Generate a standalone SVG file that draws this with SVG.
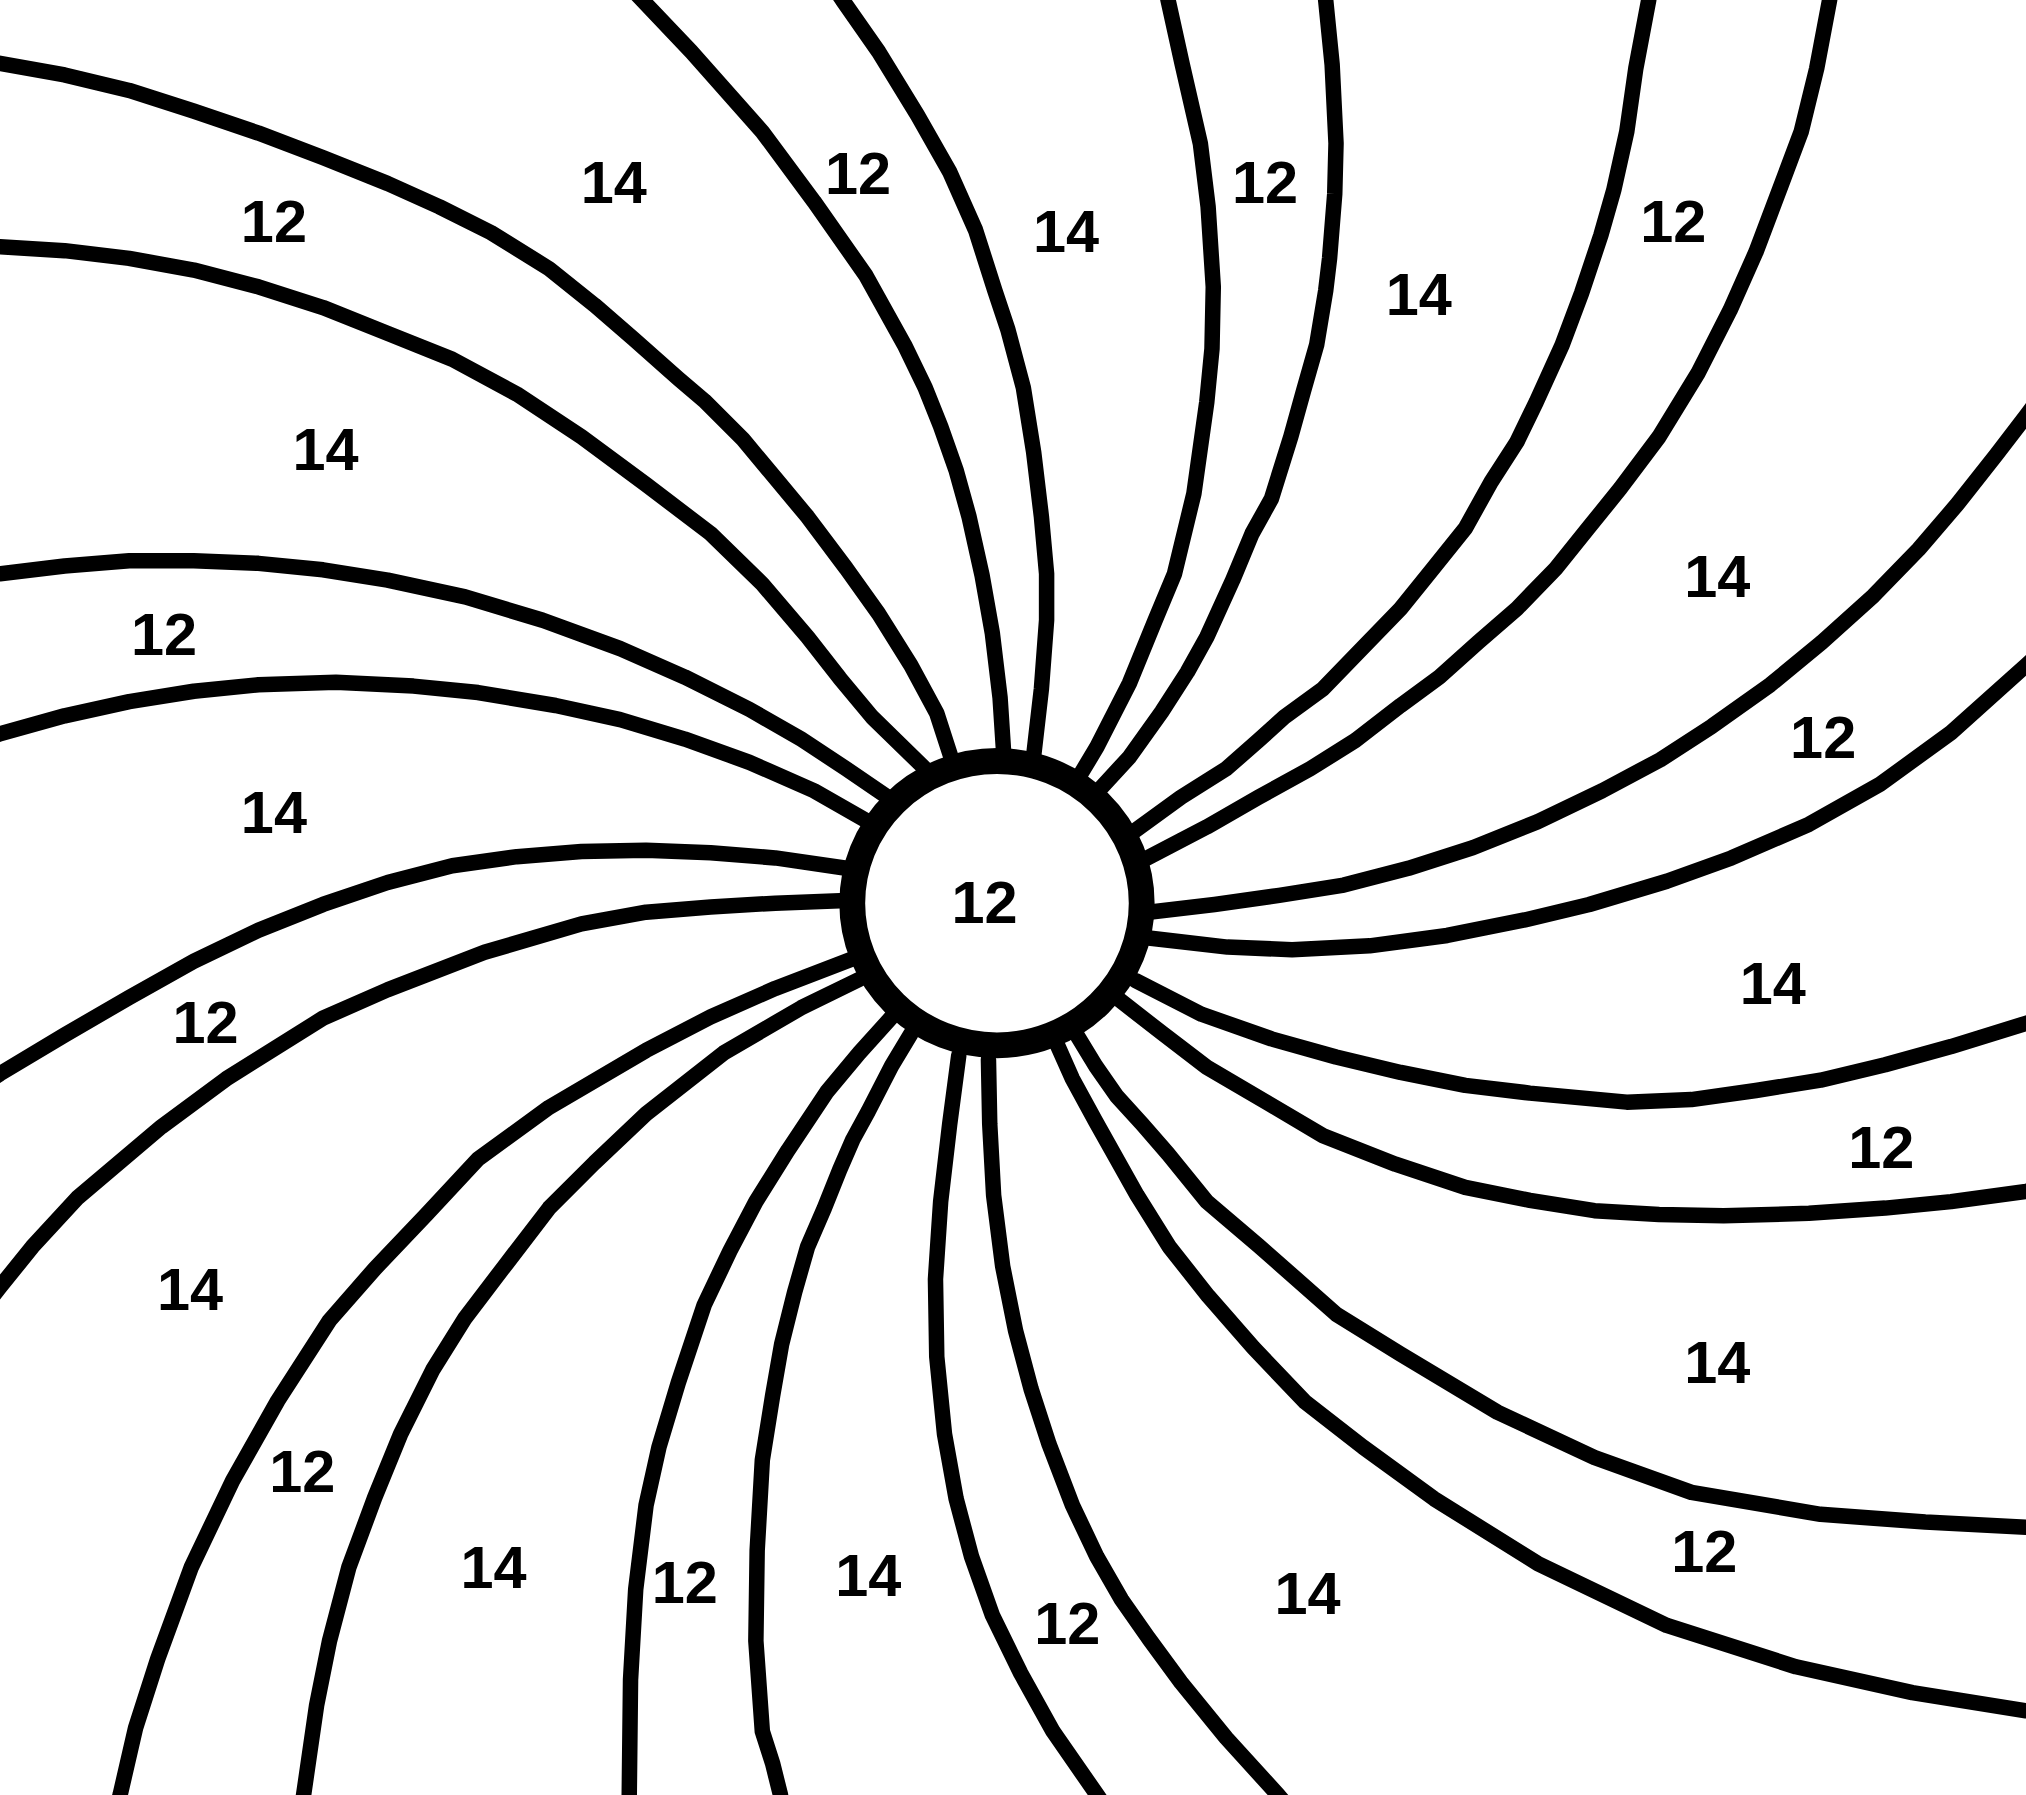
<svg xmlns="http://www.w3.org/2000/svg" width="2026" height="1795" viewBox="0 0 2026 1795">
<style>
.c{fill:none;stroke:#000;stroke-width:12;stroke-linejoin:round;stroke-linecap:round}
.t{font-family:"Liberation Sans",Arial,sans-serif;font-weight:bold;font-size:46px;text-anchor:middle;fill:#000}
.ring{fill:#fff;stroke:#000;stroke-width:20}
</style>
<rect width="2026" height="1795" fill="#fff"/>
<g transform="scale(1.29209)">
<g id="connectors">
<path class="c" d="M715,594 L675,555 L650,525 L625,493 L590,452 L550,413 L500,375 L450,338 L400,305 L350,278 L300,258 L250,238 L200,222 L150,209 L100,200 L50,194 L0,191 L-15,190"/>
<path class="c" d="M737,589 L725,552 L705,515 L680,475 L655,440 L625,400 L600,370 L575,340 L545,310 L525,293 L490,262 L460,236 L425,208 L380,180 L340,160 L300,142 L250,122 L200,103 L150,86 L100,70 L50,58 L0,49 L-15,47"/>
<path class="c" d="M777,586 L774,540 L768,490 L760,445 L750,400 L740,364 L728,330 L716,300 L700,267 L670,213 L630,156 L590,102 L535,40 L497,0 L483,-15"/>
<path class="c" d="M800,585 L806,533 L810,480 L810,444 L806,400 L800,350 L792,300 L780,255 L770,225 L755,178 L735,133 L710,89 L680,40 L652,0 L642,-15"/>
<path class="c" d="M834,603 L849,578 L874,529 L894,480 L909,444 L924,382 L934,311 L938,270 L939,222 L935,160 L929,111 L915,50 L904,0 L901,-15"/>
<path class="c" d="M851,611 L874,586 L899,551 L919,520 L934,493 L954,449 L969,413 L984,386 L999,338 L1009,302 L1019,267 L1026,225 L1029,200 L1033,150 L1034,111 L1031,50 L1026,0 L1025,-15"/>
<path class="c" d="M877,644 L914,617 L949,595 L974,573 L994,555 L1024,533 L1054,502 L1084,471 L1109,440 L1134,409 L1154,373 L1174,342 L1189,311 L1209,267 L1224,227 L1239,182 L1249,147 L1259,102 L1266,53 L1276,0 L1278,-15"/>
<path class="c" d="M884,666 L934,640 L974,617 L1014,595 L1049,573 L1084,546 L1114,524 L1144,497 L1174,471 L1204,440 L1229,409 L1254,378 L1284,338 L1314,289 L1339,240 L1359,195 L1379,142 L1394,102 L1406,53 L1416,0 L1418,-15"/>
<path class="c" d="M889,706 L940,700 L990,693 L1040,685 L1090,672 L1140,656 L1190,636 L1240,612 L1285,588 L1325,562 L1370,530 L1410,497 L1450,461 L1485,425 L1515,390 L1545,352 L1568,322 L1590,292"/>
<path class="c" d="M889,726 L950,733 L1000,735 L1060,732 L1120,724 L1180,712 L1230,700 L1290,682 L1340,664 L1400,638 L1455,607 L1510,567 L1568,515 L1590,495"/>
<path class="c" d="M879,759 L930,785 L984,804 L1034,818 L1084,830 L1134,840 L1184,846 L1259,853 L1309,851 L1359,844 L1409,836 L1459,824 L1510,810 L1568,792 L1590,785"/>
<path class="c" d="M864,772 L900,800 L934,826 L980,853 L1024,879 L1080,901 L1134,919 L1184,929 L1234,937 L1284,940 L1334,941 L1400,939 L1459,935 L1510,930 L1568,922 L1590,918"/>
<path class="c" d="M834,802 L848,825 L864,848 L884,870 L904,893 L934,930 L974,964 L1034,1017 L1084,1048 L1159,1093 L1234,1128 L1309,1155 L1409,1172 L1490,1178 L1568,1182 L1590,1183"/>
<path class="c" d="M818,808 L830,835 L848,868 L862,893 L880,925 L905,965 L935,1003 L970,1043 L1010,1085 L1055,1120 L1110,1160 L1190,1210 L1290,1258 L1390,1290 L1480,1310 L1568,1324 L1590,1327"/>
<path class="c" d="M765,820 L766,870 L769,925 L776,980 L786,1030 L798,1075 L812,1118 L830,1165 L849,1205 L868,1238 L889,1268 L914,1302 L949,1345 L989,1389 L1005,1408"/>
<path class="c" d="M742,817 L735,870 L728,930 L724,990 L725,1050 L731,1110 L740,1160 L752,1205 L768,1250 L790,1295 L815,1340 L849,1389 L862,1408"/>
<path class="c" d="M705,800 L690,825 L672,860 L660,882 L650,905 L638,935 L625,965 L615,1000 L605,1040 L598,1080 L590,1130 L586,1200 L585,1270 L590,1340 L598,1365 L604,1389 L607,1408"/>
<path class="c" d="M692,785 L665,815 L640,845 L610,890 L585,930 L565,968 L545,1010 L525,1070 L510,1120 L500,1165 L492,1230 L488,1300 L487,1389 L487,1408"/>
<path class="c" d="M665,758 L620,780 L560,815 L500,862 L460,900 L425,935 L392,978 L360,1020 L335,1060 L310,1110 L290,1159 L270,1213 L255,1270 L245,1320 L235,1389 L232,1408"/>
<path class="c" d="M660,742 L600,765 L550,787 L500,813 L425,857 L370,897 L330,940 L290,982 L255,1022 L215,1084 L180,1146 L148,1213 L122,1284 L105,1337 L93,1389 L88,1408"/>
<path class="c" d="M655,697 L600,699 L550,702 L500,706 L450,715 L375,737 L300,766 L250,788 L175,835 L125,872 L60,927 L25,965 L0,996 L-15,1015"/>
<path class="c" d="M655,672 L600,664 L550,660 L500,658 L450,659 L400,663 L350,670 L300,683 L250,700 L200,720 L150,744 L100,772 L50,801 L0,831 L-15,841"/>
<path class="c" d="M672,636 L630,612 L580,590 L530,572 L480,557 L430,546 L370,536 L320,531 L260,528 L200,530 L150,535 L100,543 L50,554 L0,568 L-15,572"/>
<path class="c" d="M687,617 L655,595 L620,572 L580,549 L530,524 L480,502 L420,480 L360,462 L300,449 L250,441 L200,436 L150,434 L100,434 L50,438 L0,444 L-15,446"/>
</g>
<g id="node-center">
<ellipse class="ring" cx="771.6" cy="699" rx="112" ry="110"/>
<text class="t" x="762" y="714">12</text>
</g>
<g id="labels">
<text class="t" x="212" y="187">12</text>
<text class="t" x="475" y="157">14</text>
<text class="t" x="664" y="150">12</text>
<text class="t" x="825" y="195">14</text>
<text class="t" x="979" y="157">12</text>
<text class="t" x="1098" y="244">14</text>
<text class="t" x="1295" y="187">12</text>
<text class="t" x="1329" y="462">14</text>
<text class="t" x="1411" y="587">12</text>
<text class="t" x="1372" y="777">14</text>
<text class="t" x="1456" y="904">12</text>
<text class="t" x="1329" y="1070">14</text>
<text class="t" x="1319" y="1217">12</text>
<text class="t" x="1012" y="1249">14</text>
<text class="t" x="826" y="1272">12</text>
<text class="t" x="672" y="1235">14</text>
<text class="t" x="530" y="1241">12</text>
<text class="t" x="382" y="1229">14</text>
<text class="t" x="234" y="1155">12</text>
<text class="t" x="147" y="1014">14</text>
<text class="t" x="159" y="807">12</text>
<text class="t" x="212" y="645">14</text>
<text class="t" x="127" y="507">12</text>
<text class="t" x="252" y="364">14</text>
</g>
</g>
</svg>
